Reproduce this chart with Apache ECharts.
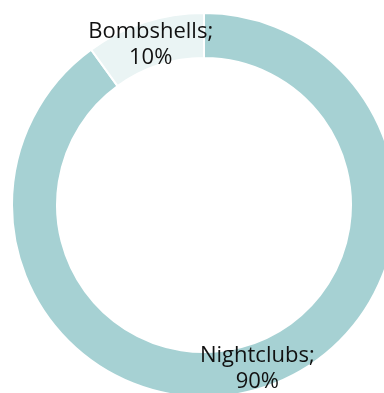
<!DOCTYPE html>
<html>
<head>
<meta charset="utf-8">
<script src="https://cdn.jsdelivr.net/npm/echarts@6/dist/echarts.min.js"></script>
<style>
  html, body { margin: 0; padding: 0; background: #ffffff; }
  #chart { width: 384px; height: 393px; }
</style>
</head>
<body>
<div id="chart"></div>
<script>
// Share of venues by type
const categories = ['Nightclubs', 'Bombshells'];
const shares = [90, 10];
const colors = ['#a6d1d3', '#eaf4f4'];

const CX = 204;
const CY = 205;

const chart = echarts.init(document.getElementById('chart'), null, { renderer: 'canvas' });

chart.setOption({
  animation: false,
  series: [{
    type: 'pie',
    center: [CX, CY],
    radius: [147, 192],
    startAngle: 90,
    clockwise: true,
    avoidLabelOverlap: false,
    itemStyle: { borderColor: '#ffffff', borderWidth: 2 },
    label: {
      show: true,
      position: 'inside',
      formatter: p => p.name + ';\n' + p.value + '%',
      color: '#111111',
      fontFamily: 'Open Sans',
      fontSize: 22,
      lineHeight: 26,
      align: 'center'
    },
    // nudge the label that sits on the upper arc slightly toward the ring centre line
    labelLayout: p => ({ dy: p.labelRect.y < CY ? 4 : 0 }),
    labelLine: { show: false },
    data: categories.map((name, i) => ({
      name: name,
      value: shares[i],
      itemStyle: { color: colors[i] }
    }))
  }]
});
</script>
</body>
</html>
